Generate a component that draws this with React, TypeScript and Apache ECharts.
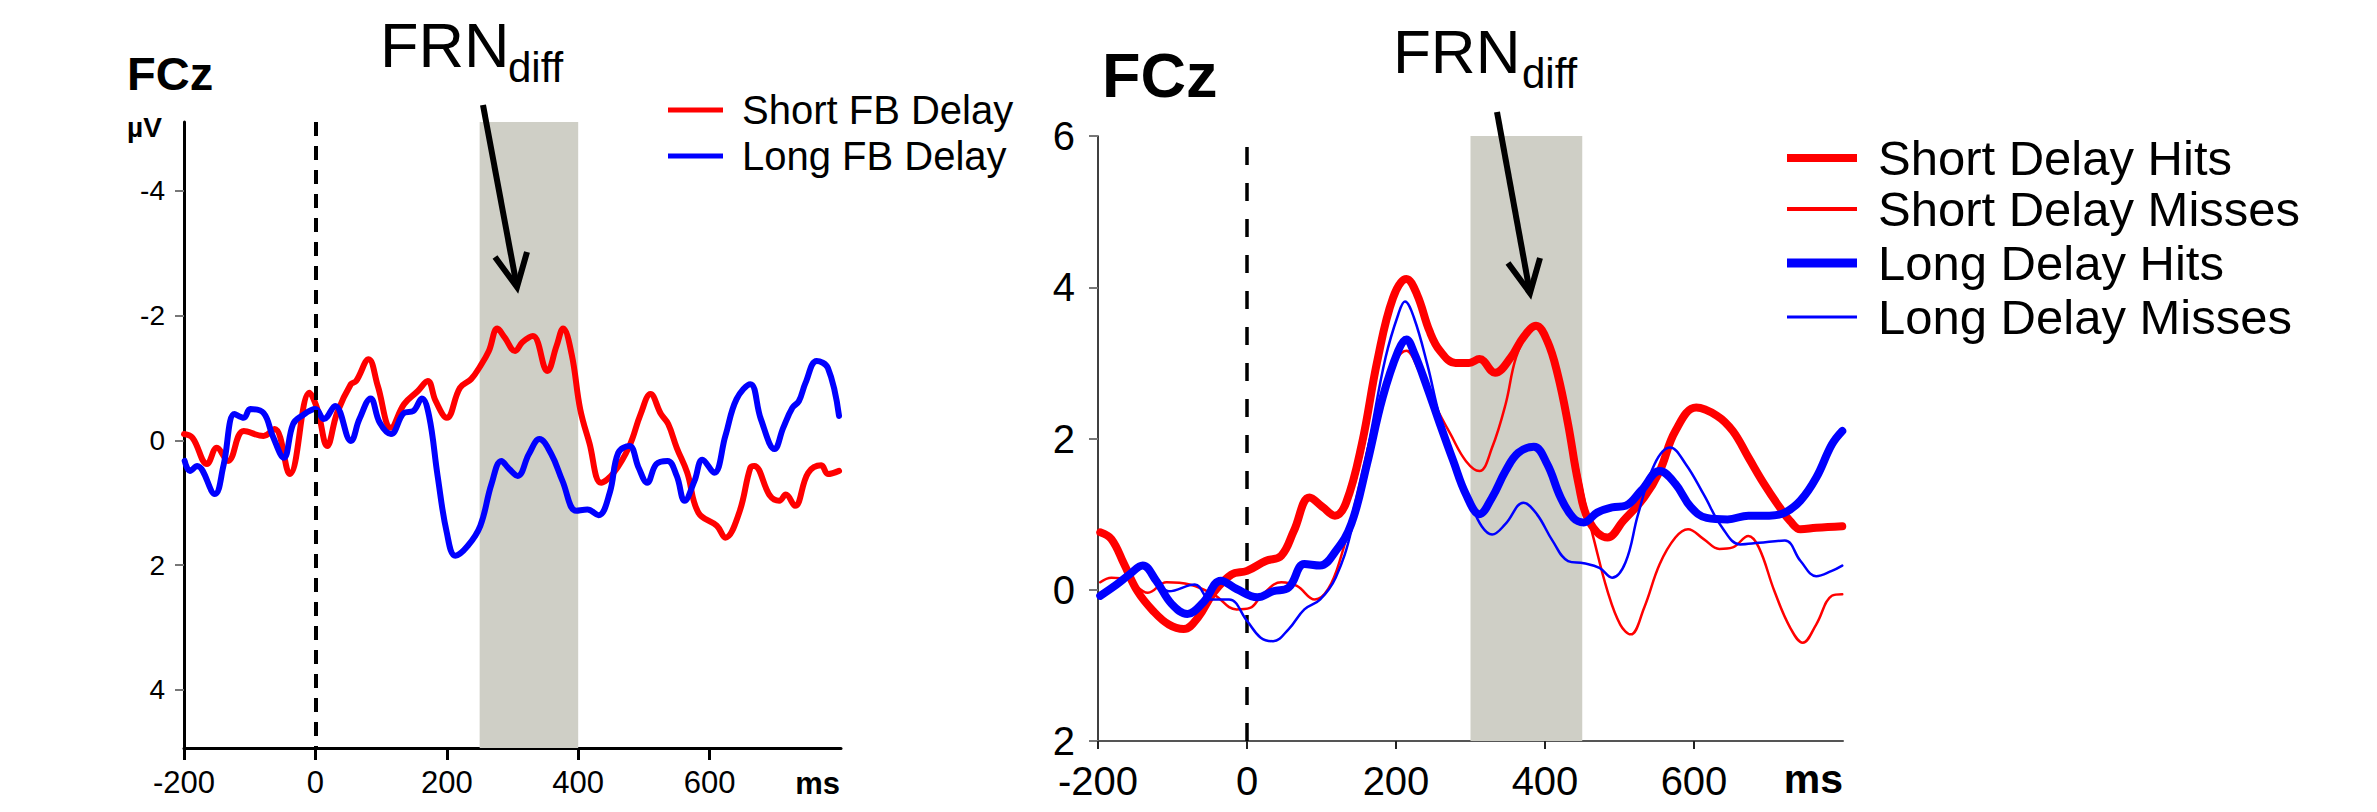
import React, { useEffect, useRef } from 'react';
import * as echarts from 'echarts';

const FONT = "'Liberation Sans', Arial, Helvetica, sans-serif";

// ---------- Left panel: FCz, Short vs Long FB delay ----------
const shortFbMs = [-200, -187, -165, -150, -133, -109, -79, -62, -39, -9, 3, 18, 33, 54, 62, 81, 95, 115, 135, 156, 171, 183, 200, 220, 237, 251, 264, 277, 288, 304, 315, 331, 353, 367, 377, 390, 403, 417, 435, 454, 478, 495, 510, 526, 537, 550, 566, 583, 611, 624, 645, 662, 668, 692, 706, 716, 730, 750, 770, 780, 797];
const shortFbUv = [-0.10, -0.04, 0.38, 0.12, 0.33, -0.15, -0.07, -0.18, 0.54, -0.76, -0.50, 0.09, -0.44, -0.90, -0.95, -1.30, -0.87, -0.20, -0.58, -0.79, -0.95, -0.63, -0.36, -0.84, -0.98, -1.19, -1.43, -1.79, -1.65, -1.43, -1.57, -1.67, -1.11, -1.51, -1.79, -1.38, -0.50, 0.04, 0.68, 0.52, 0.09, -0.42, -0.74, -0.42, -0.26, 0.12, 0.52, 1.16, 1.37, 1.56, 1.16, 0.44, 0.41, 0.89, 0.97, 0.87, 1.05, 0.52, 0.40, 0.54, 0.49];
const longFbMs = [-199, -191, -180, -153, -140, -123, -109, -99, -79, -65, -48, -34, -21, 0, 13, 30, 54, 67, 84, 98, 115, 135, 149, 162, 173, 186, 200, 213, 232, 251, 268, 283, 295, 308, 325, 341, 359, 376, 397, 414, 431, 448, 461, 478, 492, 505, 519, 536, 550, 562, 577, 589, 607, 624, 641, 662, 678, 699, 712, 726, 736, 746, 763, 780, 797];
const longFbUv = [0.33, 0.49, 0.41, 0.86, 0.41, -0.42, -0.36, -0.50, -0.44, -0.07, 0.28, -0.26, -0.39, -0.50, -0.34, -0.55, 0.01, -0.34, -0.67, -0.28, -0.10, -0.44, -0.47, -0.67, -0.39, 0.57, 1.48, 1.85, 1.69, 1.37, 0.70, 0.33, 0.46, 0.57, 0.22, -0.02, 0.22, 0.65, 1.13, 1.11, 1.20, 0.84, 0.20, 0.09, 0.44, 0.68, 0.38, 0.33, 0.57, 0.97, 0.65, 0.31, 0.52, -0.07, -0.66, -0.90, -0.34, 0.14, -0.20, -0.52, -0.63, -0.92, -1.27, -1.16, -0.39];

// ---------- Right panel: FCz, hits / misses ----------
const shortHitsMs = [-197, -182, -165, -147, -126, -105, -85, -66, -45, -21, 0, 25, 46, 63, 84, 102, 118, 133, 154, 175, 196, 214, 228, 245, 259, 280, 298, 312, 333, 354, 371, 388, 403, 417, 431, 445, 459, 484, 505, 533, 554, 575, 603, 631, 652, 673, 694, 715, 729, 743, 764, 799];
const shortHitsUv = [0.76, 0.67, 0.34, -0.02, -0.28, -0.46, -0.52, -0.37, -0.04, 0.20, 0.25, 0.38, 0.45, 0.78, 1.22, 1.09, 0.98, 1.15, 1.92, 3.03, 3.86, 4.11, 3.91, 3.42, 3.16, 3.00, 3.00, 3.05, 2.87, 3.07, 3.34, 3.49, 3.29, 2.85, 2.19, 1.40, 0.91, 0.69, 0.91, 1.22, 1.57, 2.10, 2.41, 2.30, 2.10, 1.75, 1.40, 1.09, 0.91, 0.80, 0.82, 0.84];
const shortMissMs = [-197, -182, -161, -133, -108, -77, -45, -14, 4, 21, 46, 67, 91, 109, 126, 147, 168, 189, 214, 231, 252, 273, 294, 312, 329, 347, 361, 378, 388, 403, 417, 434, 452, 466, 484, 501, 515, 533, 554, 575, 592, 613, 634, 652, 673, 687, 708, 729, 746, 764, 785, 799];
const shortMissUv = [0.10, 0.16, 0.14, -0.04, 0.10, 0.07, -0.06, -0.26, -0.24, -0.06, 0.10, 0.05, -0.13, 0.01, 0.43, 1.22, 2.10, 2.81, 3.16, 2.89, 2.45, 2.06, 1.70, 1.57, 1.88, 2.45, 3.07, 3.42, 3.47, 3.29, 2.85, 2.10, 1.22, 0.65, -0.02, -0.46, -0.59, -0.24, 0.34, 0.69, 0.80, 0.67, 0.54, 0.56, 0.71, 0.56, -0.02, -0.50, -0.70, -0.46, -0.08, -0.06];
const longHitsMs = [-197, -175, -158, -140, -122, -101, -80, -59, -35, -14, 14, 35, 56, 77, 98, 119, 140, 161, 182, 203, 214, 224, 242, 259, 277, 294, 312, 329, 347, 364, 385, 403, 421, 438, 452, 470, 490, 508, 529, 554, 575, 596, 617, 645, 673, 701, 722, 743, 764, 785, 799];
const longHitsUv = [-0.08, 0.07, 0.20, 0.32, 0.12, -0.19, -0.32, -0.17, 0.12, 0.01, -0.10, -0.02, 0.03, 0.34, 0.32, 0.51, 0.87, 1.66, 2.54, 3.16, 3.31, 3.14, 2.67, 2.19, 1.70, 1.26, 1.00, 1.22, 1.57, 1.81, 1.89, 1.66, 1.22, 0.95, 0.89, 1.02, 1.09, 1.11, 1.31, 1.57, 1.40, 1.09, 0.95, 0.93, 0.98, 0.98, 1.02, 1.18, 1.48, 1.92, 2.10];
const longMissMs = [-197, -175, -154, -140, -122, -105, -70, -49, -24, 0, 18, 35, 56, 77, 98, 119, 140, 165, 186, 203, 212, 224, 242, 259, 280, 301, 315, 329, 347, 371, 389, 410, 431, 452, 473, 490, 508, 525, 547, 568, 589, 613, 638, 662, 687, 722, 743, 764, 785, 799];
const longMissUv = [-0.04, 0.07, 0.25, 0.29, 0.12, -0.02, 0.07, -0.13, -0.13, -0.41, -0.63, -0.68, -0.52, -0.26, -0.13, 0.16, 0.78, 2.01, 3.07, 3.64, 3.81, 3.60, 2.98, 2.28, 1.66, 1.13, 0.84, 0.73, 0.87, 1.15, 1.00, 0.65, 0.38, 0.35, 0.29, 0.16, 0.36, 1.00, 1.66, 1.88, 1.66, 1.26, 0.82, 0.60, 0.62, 0.65, 0.38, 0.18, 0.25, 0.32];

// ---------- Axes ----------
const xTicks = [-200, 0, 200, 400, 600];
const leftYTicks = [-4, -2, 0, 2, 4];
const rightYTicks = [-2, 0, 2, 4, 6];
const leftWindow = [250, 400];
const rightWindow = [300, 450];

const zip = (xs: number[], ys: number[]) => xs.map((x, i) => [x, ys[i]]);

const RED = '#ff0000';
const BLUE = '#0000ff';
const SHADE = '#cfcfc6';

function lineSeries(name: string, xi: number, xs: number[], ys: number[], color: string, width: number, z: number) {
  return {
    name,
    type: 'line',
    xAxisIndex: xi,
    yAxisIndex: xi,
    data: zip(xs, ys),
    smooth: 0.4,
    symbol: 'none',
    showSymbol: false,
    lineStyle: { color, width, cap: 'round', join: 'round' },
    itemStyle: { color },
    z,
  };
}

function legendItem(name: string, left: number, rowY: number, w: number, h: number, fontSize: number, padLeft: number) {
  const lh = fontSize;
  return {
    data: [name],
    left,
    top: rowY - lh / 2,
    orient: 'horizontal',
    icon: 'rect',
    itemWidth: w,
    itemHeight: h,
    selectedMode: false,
    padding: 0,
    textStyle: { fontSize, fontFamily: FONT, color: '#000', lineHeight: lh, padding: [0, 0, 0, padLeft] },
  };
}

export default function App() {
  const ref = useRef<HTMLDivElement>(null);
  useEffect(() => {
    if (!ref.current) return;
    const chart = echarts.init(ref.current, undefined, { renderer: 'svg' });

    const arrow = (x1: number, y1: number, x2: number, y2: number, w1: number[], w2: number[]) => [
      { type: 'line', z: 100, shape: { x1, y1, x2, y2 }, style: { stroke: '#000', lineWidth: 6 } },
      {
        type: 'polyline',
        z: 100,
        shape: { points: [w1, [x2, y2], w2] },
        style: { stroke: '#000', lineWidth: 6, fill: null, lineJoin: 'miter' },
      },
    ];

    const txt = (text: string, x: number, y: number, font: string, align = 'left') => ({
      type: 'text',
      z: 100,
      style: {
        text, x, y, font, fill: '#000',
        align, textAlign: align, verticalAlign: 'middle', textVerticalAlign: 'middle',
      },
    });

    const option: any = {
      animation: false,
      backgroundColor: '#ffffff',
      textStyle: { fontFamily: FONT },
      grid: [
        { left: 184, top: 122, width: 657, height: 626, containLabel: false, outerBoundsMode: 'none' },
        { left: 1098, top: 136, width: 745, height: 605, containLabel: false, outerBoundsMode: 'none' },
      ],
      xAxis: [
        {
          type: 'value', gridIndex: 0, min: -200, max: 800, interval: 200,
          splitLine: { show: false },
          axisLine: { show: true, onZero: false, lineStyle: { color: '#000', width: 3 } },
          axisTick: { show: true, length: 12, lineStyle: { color: '#000', width: 3 }, customValues: xTicks },
          axisLabel: { customValues: xTicks, fontSize: 31, color: '#000', margin: 19, fontFamily: FONT },
        },
        {
          type: 'value', gridIndex: 1, min: -200, max: 800, interval: 200,
          splitLine: { show: false },
          axisLine: { show: true, onZero: false, lineStyle: { color: '#555', width: 2 } },
          axisTick: { show: true, length: 8, lineStyle: { color: '#222', width: 2 }, customValues: xTicks },
          axisLabel: { customValues: xTicks, fontSize: 40, lineHeight: 34, color: '#000', margin: 23, fontFamily: FONT },
        },
      ],
      yAxis: [
        {
          type: 'value', gridIndex: 0, min: -5.1, max: 4.93, inverse: true,
          splitLine: { show: false },
          axisLine: { show: true, onZero: false, lineStyle: { color: '#000', width: 3 } },
          axisTick: { show: true, length: 9, lineStyle: { color: '#777', width: 2 }, customValues: leftYTicks },
          axisLabel: { customValues: leftYTicks, fontSize: 28, color: '#000', margin: 19, fontFamily: FONT },
        },
        {
          type: 'value', gridIndex: 1, min: -2, max: 6,
          splitLine: { show: false },
          axisLine: { show: true, onZero: false, lineStyle: { color: '#000', width: 1.5 } },
          axisTick: { show: true, length: 9, lineStyle: { color: '#777', width: 2 }, customValues: rightYTicks },
          axisLabel: {
            customValues: rightYTicks, fontSize: 40, lineHeight: 32, color: '#000', margin: 23, fontFamily: FONT,
            formatter: (v: number) => String(Math.abs(v)),
          },
        },
      ],
      legend: [
        legendItem('Short FB Delay', 668, 110, 55, 5, 40, 14),
        legendItem('Long FB Delay', 668, 156, 55, 5, 40, 14),
        legendItem('Short Delay Hits', 1787, 158, 70, 8, 49, 16),
        legendItem('Short Delay Misses', 1787, 209, 70, 4, 49, 16),
        legendItem('Long Delay Hits', 1787, 263, 70, 9, 49, 16),
        legendItem('Long Delay Misses', 1787, 317, 70, 3, 49, 16),
      ],
      series: [
        {
          type: 'line', xAxisIndex: 0, yAxisIndex: 0, data: [], z: 1, silent: true,
          markArea: { silent: true, itemStyle: { color: SHADE }, data: [[{ xAxis: leftWindow[0] }, { xAxis: leftWindow[1] }]] },
          markLine: {
            silent: true, symbol: ['none', 'none'], label: { show: false },
            lineStyle: { type: [14, 10], color: '#000', width: 4 },
            data: [{ xAxis: 0 }],
          },
        },
        {
          type: 'line', xAxisIndex: 1, yAxisIndex: 1, data: [], z: 1, silent: true,
          markArea: { silent: true, itemStyle: { color: SHADE }, data: [[{ xAxis: rightWindow[0] }, { xAxis: rightWindow[1] }]] },
          markLine: {
            silent: true, symbol: ['none', 'none'], label: { show: false },
            lineStyle: { type: [18, 18], color: '#000', width: 3.5 },
            data: [{ xAxis: 0 }],
          },
        },
        lineSeries('Short FB Delay', 0, shortFbMs, shortFbUv, RED, 6, 3),
        lineSeries('Long FB Delay', 0, longFbMs, longFbUv, BLUE, 6, 4),
        lineSeries('Short Delay Hits', 1, shortHitsMs, shortHitsUv, RED, 8, 3),
        lineSeries('Short Delay Misses', 1, shortMissMs, shortMissUv, RED, 2.5, 4),
        lineSeries('Long Delay Hits', 1, longHitsMs, longHitsUv, BLUE, 8, 5),
        lineSeries('Long Delay Misses', 1, longMissMs, longMissUv, BLUE, 2.5, 6),
      ],
      graphic: [
        txt('FCz', 127, 73, `bold 47px ${FONT}`),
        txt('µV', 127, 127, `bold 28px ${FONT}`),
        txt('FRN', 380, 45, `63px ${FONT}`),
        txt('diff', 508, 67, `42px ${FONT}`),
        txt('ms', 840, 783, `bold 31px ${FONT}`, 'right'),
        ...arrow(483, 105, 517, 287, [495, 257], [527, 252]),
        txt('FCz', 1102, 75, `bold 63px ${FONT}`),
        txt('FRN', 1393, 51, `62px ${FONT}`),
        txt('diff', 1522, 73, `42px ${FONT}`),
        txt('ms', 1843, 779, `bold 41px ${FONT}`, 'right'),
        ...arrow(1497, 112, 1530, 293, [1508, 263], [1540, 258]),
      ],
    };
    chart.setOption(option);
    return () => chart.dispose();
  }, []);
  return <div ref={ref} style={{ position: 'fixed', left: 0, top: 0, width: 2377, height: 812, background: '#fff' }} />;
}
